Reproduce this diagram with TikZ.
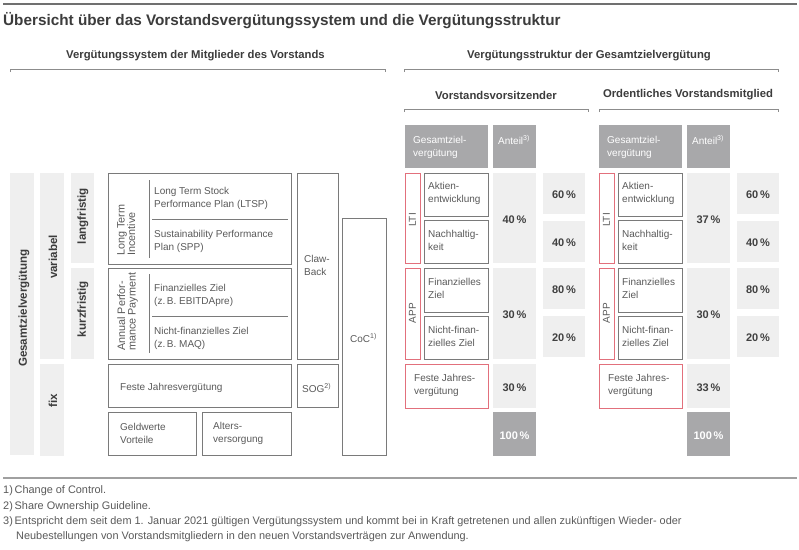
\documentclass[tikz,border=0pt]{standalone}
\usepackage{fontspec}
\setmainfont{Liberation Sans}
\definecolor{rulec}{HTML}{707070}
\definecolor{frulec}{HTML}{A0A0A0}
\definecolor{headc}{HTML}{3C3C3C}
\definecolor{brkc}{HTML}{8C8C8C}
\definecolor{boxc}{HTML}{7A7A7A}
\definecolor{lightc}{HTML}{EFEFEF}
\definecolor{hdrc}{HTML}{A8A8AA}
\definecolor{redc}{HTML}{E2707C}
\definecolor{txtc}{HTML}{5A5A5A}
\definecolor{pctc}{HTML}{404040}
\newcommand{\rbox}[6][]{\node[#1,anchor=north west,minimum width={(#5)-(#3)},minimum height={(#6)-(#4)}] (#2) at (#3,#4) {};}
\tikzset{
 bx/.style={draw=boxc, line width=0.9pt, fill=white, inner sep=0pt, outer sep=0pt},
 rbx/.style={draw=redc, line width=0.9pt, fill=white, inner sep=0pt, outer sep=0pt},
 hdr/.style={fill=hdrc, inner sep=0pt, outer sep=0pt},
 lgt/.style={fill=lightc, inner sep=0pt, outer sep=0pt},
 txt/.style={font=\fontsize{10}{13}\selectfont, text=txtc, inner sep=0pt, align=left, anchor=west},
 htxt/.style={txt, text=white},
 pct/.style={font=\bfseries\fontsize{11}{13}\selectfont, text=pctc, inner sep=0pt},
 tot/.style={pct, text=white},
 bar/.style={font=\bfseries\fontsize{11.6}{13}\selectfont, text=headc, inner sep=0pt, rotate=90},
 rot/.style={font=\fontsize{10.8}{10.5}\selectfont, text=txtc, inner sep=0pt, rotate=90, align=left},
 rotsm/.style={font=\fontsize{10}{10.5}\selectfont, text=txtc, inner sep=0pt, rotate=90},
 head/.style={font=\bfseries\fontsize{11.3}{13}\selectfont, text=headc, inner sep=0pt},
 brk/.style={draw=brkc, line width=1pt},
 dv/.style={draw=boxc, line width=0.9pt},
 fn/.style={font=\fontsize{10.9}{12}\selectfont, text=txtc, inner sep=0pt, anchor=west},
}
\begin{document}
\begin{tikzpicture}[x=1pt,y=-1pt]
\useasboundingbox[fill=white] (0,0) rectangle (799,549);
% top rule and title
\draw[rulec, line width=2.2pt] (3,4) -- (797,4);
\node[font=\bfseries\fontsize{15.3}{18}\selectfont, text=headc, inner sep=0pt, anchor=west] (title) at (3,21)
  {Übersicht über das Vorstandsvergütungssystem und die Vergütungsstruktur};
% section headings and brackets
\node[head] (hleft) at (195.5,56) {Vergütungssystem der Mitglieder des Vorstands};
\node[head] (hright) at (589,56) {Vergütungsstruktur der Gesamtzielvergütung};
\node[head] (hceo) at (496,95) {Vorstandsvorsitzender};
\node[head] (hmem) at (688,95) {Ordentliches Vorstandsmitglied};
\draw[brk] (10,72) -- (10,69) -- (385,69) -- (385,72);
\draw[brk] (404,72) -- (404,69) -- (778,69) -- (778,72);
\draw[brk] (404,112) -- (404,109) -- (588,109) -- (588,112);
\draw[brk] (599,112) -- (599,109) -- (778,109) -- (778,112);
% left bars
\rbox[lgt]{bges}{10}{173}{34}{455}
\rbox[lgt]{bvar}{40}{173}{64}{359}
\rbox[lgt]{bfix}{40}{364}{64}{456}
\rbox[lgt]{blang}{71}{173}{94}{263}
\rbox[lgt]{bkurz}{71}{268}{94}{359}
\node[bar] (tges) at (24,308) {Gesamtzielvergütung};
\node[bar] (tvar) at (53,257) {variabel};
\node[bar] (tlang) at (83,216) {langfristig};
\node[bar] (tkurz) at (83,309) {kurzfristig};
\node[bar] (tfix) at (53,401) {fix};
% system boxes
\rbox[bx]{lti}{108}{173}{291}{264}
\rbox[bx]{app}{108}{268}{291}{359}
\rbox[bx]{feste}{108}{364}{291}{407}
\rbox[bx]{geld}{108}{412}{196}{455}
\rbox[bx]{alters}{202}{412}{291}{455}
\rbox[bx]{claw}{297}{173}{338}{359}
\rbox[bx]{sog}{297}{364}{338}{407}
\rbox[bx]{coc}{342}{218}{386}{455}
\draw[dv] (149,180) -- (149,258);
\draw[dv] (152,219) -- (288,219);
\draw[dv] (149,274) -- (149,353);
\draw[dv] (152,316) -- (288,316);
\node[rot, anchor=north west] (tlti) at (117,256) {Long Term\\Incentive};
\node[rot, anchor=north west] (tapp) at (117,351) {Annual Perfor-\\mance Payment};
\node[txt] (tltsp) at (154,198.5) {Long Term Stock\\Performance Plan (LTSP)};
\node[txt] (tspp) at (154,241.5) {Sustainability Performance\\Plan (SPP)};
\node[txt] (tfin) at (154,295) {Finanzielles Ziel\\(z.\,B. EBITDApre)};
\node[txt] (tnfin) at (154,338) {Nicht-finanzielles Ziel\\(z.\,B. MAQ)};
\node[txt] (tfeste) at (120,388) {Feste Jahresvergütung};
\node[txt] (tgeld) at (120,433) {Geldwerte\\Vorteile};
\node[txt] (talt) at (213,433) {Alters-\\versorgung};
\node[txt] (tclaw) at (304,265) {Claw-\\Back};
\node[txt] (tsog) at (302,388) {SOG\textsuperscript{2)}};
\node[txt] (tcoc) at (350,338) {CoC\textsuperscript{1)}};
% structure panels
\foreach \o/\s/\lp/\fp in {0/a/40/30, 194/b/37/33}{
  \rbox[hdr]{hg\s}{\o+405}{125}{\o+488}{168}
  \rbox[hdr]{ha\s}{\o+493}{125}{\o+536}{168}
  \node[htxt] (hgt\s) at (\o+413,147) {Gesamtziel-\\vergütung};
  \node[htxt] (hat\s) at (\o+498,140) {Anteil\textsuperscript{3)}};
  \rbox[rbx]{rlti\s}{\o+405}{173}{\o+420}{263}
  \rbox[bx]{akt\s}{\o+424}{173}{\o+488}{216}
  \rbox[bx]{nach\s}{\o+424}{220}{\o+488}{263}
  \rbox[lgt]{pl\s}{\o+493}{173}{\o+536}{263}
  \rbox[lgt]{s1\s}{\o+543}{173}{\o+585}{214}
  \rbox[lgt]{s2\s}{\o+543}{221}{\o+585}{262}
  \rbox[rbx]{rapp\s}{\o+405}{268}{\o+420}{359}
  \rbox[bx]{fin\s}{\o+424}{268}{\o+488}{312}
  \rbox[bx]{nf\s}{\o+424}{316}{\o+488}{359}
  \rbox[lgt]{pa\s}{\o+493}{268}{\o+536}{359}
  \rbox[lgt]{s3\s}{\o+543}{268}{\o+585}{309}
  \rbox[lgt]{s4\s}{\o+543}{316}{\o+585}{357}
  \rbox[rbx]{rfix\s}{\o+405}{364}{\o+488}{408}
  \rbox[lgt]{pf\s}{\o+493}{364}{\o+536}{408}
  \rbox[hdr]{tot\s}{\o+493}{412}{\o+536}{456}
  \node[rotsm, anchor=center] (ltit\s) at (\o+412.5,220) {LTI};
  \node[rotsm, anchor=center] (appt\s) at (\o+412.5,313) {APP};
  \node[txt] (aktt\s) at (\o+428,193) {Aktien-\\entwicklung};
  \node[txt] (nacht\s) at (\o+428,240.5) {Nachhaltig-\\keit};
  \node[txt] (fint\s) at (\o+428,288.5) {Finanzielles\\Ziel};
  \node[txt] (nft\s) at (\o+428,336.5) {Nicht-finan-\\zielles Ziel};
  \node[txt] (fixt\s) at (\o+414,385.5) {Feste Jahres-\\vergütung};
  \node[pct] (plt\s) at (\o+514.5,220) {\lp\,\%};
  \node[pct] (s1t\s) at (\o+564,195) {60\,\%};
  \node[pct] (s2t\s) at (\o+564,243) {40\,\%};
  \node[pct] (pat\s) at (\o+514.5,315) {30\,\%};
  \node[pct] (s3t\s) at (\o+564,290) {80\,\%};
  \node[pct] (s4t\s) at (\o+564,338) {20\,\%};
  \node[pct] (pft\s) at (\o+514.5,388) {\fp\,\%};
  \node[tot] (tott\s) at (\o+514.5,436) {100\,\%};
}
% footnotes
\draw[frulec, line width=1.5pt] (3,478) -- (797,478);
\node[fn] (fn1) at (3,491) {1)\,Change of Control.};
\node[fn] (fn2) at (3,507) {2)\,Share Ownership Guideline.};
\node[fn] (fn3) at (3,522) {3)\,Entspricht dem seit dem 1. Januar 2021 gültigen Vergütungssystem und kommt bei in Kraft getretenen und allen zukünftigen Wieder- oder};
\node[fn] (fn3b) at (16,537) {Neubestellungen von Vorstandsmitgliedern in den neuen Vorstandsverträgen zur Anwendung.};
\end{tikzpicture}
\end{document}
